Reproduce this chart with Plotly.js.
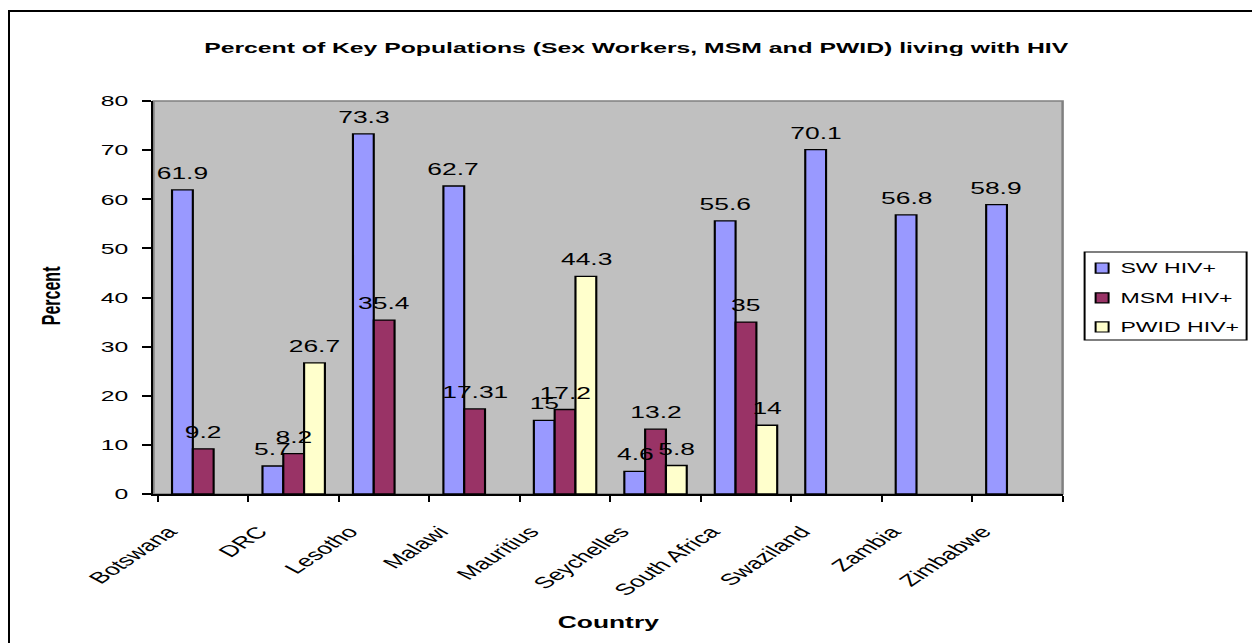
<!DOCTYPE html>
<html>
<head>
<meta charset="utf-8">
<script src="https://cdn.plot.ly/plotly-3.0.1.min.js"></script>
<style>
  body { margin: 0; background: #fff; overflow: hidden; }
  /* the source picture is stretched sideways, so the chart is drawn narrow and widened */
  #wrap {
    position: absolute; left: 0; top: 0;
    width: 759px; height: 643px;
    transform: scaleX(1.65); transform-origin: 0 0;
  }
  #chart { width: 759px; height: 643px; }
  #frame {
    position: absolute; left: 8px; top: 10px; width: 1400px; height: 800px;
    border-left: 2px solid #000; border-top: 2px solid #000;
    pointer-events: none;
  }
</style>
</head>
<body>
<div id="wrap"><div id="chart"></div></div>
<div id="frame"></div>
<script>
// countries on the x axis
const countries = ['Botswana', 'DRC', 'Lesotho', 'Malawi', 'Mauritius',
                   'Seychelles', 'South Africa', 'Swaziland', 'Zambia', 'Zimbabwe'];

// percent living with HIV, null where no data
const swHiv   = [61.9, 5.7, 73.3, 62.7, 15, 4.6, 55.6, 70.1, 56.8, 58.9];
const msmHiv  = [9.2, 8.2, 35.4, 17.31, 17.2, 13.2, 35, null, null, null];
const pwidHiv = [null, 26.7, null, null, 44.3, 5.8, 14, null, null, null];

const seriesNames = ['SW HIV+', 'MSM HIV+', 'PWID HIV+'];
const seriesColors = ['#9999FF', '#993366', '#FFFFCC'];

const font = '"Liberation Sans", Arial, sans-serif';

const W = 759, H = 643;
const margin = { l: 93, r: 115, t: 101, b: 149 };
const bargap = 0.31;

const allSeries = [swHiv, msmHiv, pwidHiv];

const data = allSeries.map((vals, i) => ({
    type: 'bar',
    x: countries,
    y: vals,
    name: seriesNames[i],
    marker: { color: seriesColors[i], line: { color: '#000', width: 1.3 } },
    hoverinfo: 'x+y+name'
}));

// value labels sit a little above each bar, as in the original
const plotW = W - margin.l - margin.r;
const barW = plotW / countries.length * (1 - bargap) / allSeries.length;
const annotations = [];
allSeries.forEach((vals, i) => {
    vals.forEach((v, j) => {
        if (v === null) return;
        annotations.push({
            x: countries[j], y: v, xref: 'x', yref: 'y',
            text: String(v), showarrow: false,
            xshift: (i - 1) * barW, yanchor: 'bottom', yshift: 6,
            font: { family: font, size: 16, color: '#000' }
        });
    });
});

// axis titles
annotations.push({
    xref: 'paper', yref: 'paper', x: -0.112, y: 0.504,
    text: '<b>Percent</b>', showarrow: false, textangle: -90,
    xanchor: 'center', yanchor: 'middle',
    font: { family: font, size: 16, color: '#000' }
});
annotations.push({
    xref: 'paper', yref: 'paper', x: 0.5, y: -0.328,
    text: '<b>Country</b>', showarrow: false,
    xanchor: 'center', yanchor: 'middle',
    font: { family: font, size: 16, color: '#000' }
});

// legend box drawn by hand so it fits the narrow frame
const shapes = [{
    type: 'rect', xref: 'paper', yref: 'paper', x0: 0, x1: 1, y0: 0, y1: 1,
    line: { color: '#808080', width: 1.5 }, layer: 'below'
}, {
    type: 'rect', xref: 'paper', yref: 'paper', x0: 1.0242, x1: 1.2024, y0: 0.3919, y1: 0.6158,
    line: { color: '#000', width: 1.2 }, fillcolor: '#fff'
}];
const legendY = [0.575, 0.499, 0.425];
seriesNames.forEach((name, i) => {
    shapes.push({
        type: 'rect', xref: 'paper', yref: 'paper',
        x0: 1.0363, x1: 1.0506, y0: legendY[i] - 0.0128, y1: legendY[i] + 0.0128,
        line: { color: '#000', width: 1.2 }, fillcolor: seriesColors[i]
    });
    annotations.push({
        xref: 'paper', yref: 'paper', x: 1.0605, y: legendY[i],
        text: name, showarrow: false, xanchor: 'left', yanchor: 'middle',
        font: { family: font, size: 14, color: '#000' }
    });
});

const layout = {
    width: W,
    height: H,
    margin: margin,
    paper_bgcolor: 'rgba(0,0,0,0)',
    plot_bgcolor: '#C0C0C0',
    font: { family: font, size: 15, color: '#000' },
    barmode: 'group',
    bargap: bargap,
    bargroupgap: 0,
    showlegend: false,
    title: {
        text: '<b>Percent of Key Populations (Sex Workers, MSM and PWID) living with HIV</b>',
        font: { family: font, size: 15, color: '#000' },
        xref: 'container', x: 0.508, xanchor: 'center',
        yref: 'container', y: 1 - 48 / H, yanchor: 'middle'
    },
    xaxis: {
        type: 'category',
        showline: true, linecolor: '#000', linewidth: 2,
        ticks: 'outside', tickson: 'boundaries', ticklen: 6, tickcolor: '#000', tickwidth: 1.2,
        tickangle: -48,
        ticklabelshift: -21,
        ticklabelstandoff: 20,
        tickfont: { family: font, size: 16 },
        showgrid: false,
        automargin: false
    },
    yaxis: {
        range: [0, 80],
        dtick: 10,
        showline: true, linecolor: '#000', linewidth: 1.2,
        ticks: 'outside', ticklen: 6, tickcolor: '#000', tickwidth: 2,
        ticklabelstandoff: 5,
        tickfont: { family: font, size: 15 },
        showgrid: false, zeroline: false,
        automargin: false
    },
    annotations: annotations,
    shapes: shapes
};

Plotly.newPlot('chart', data, layout, { displayModeBar: false, staticPlot: true });
</script>
</body>
</html>
